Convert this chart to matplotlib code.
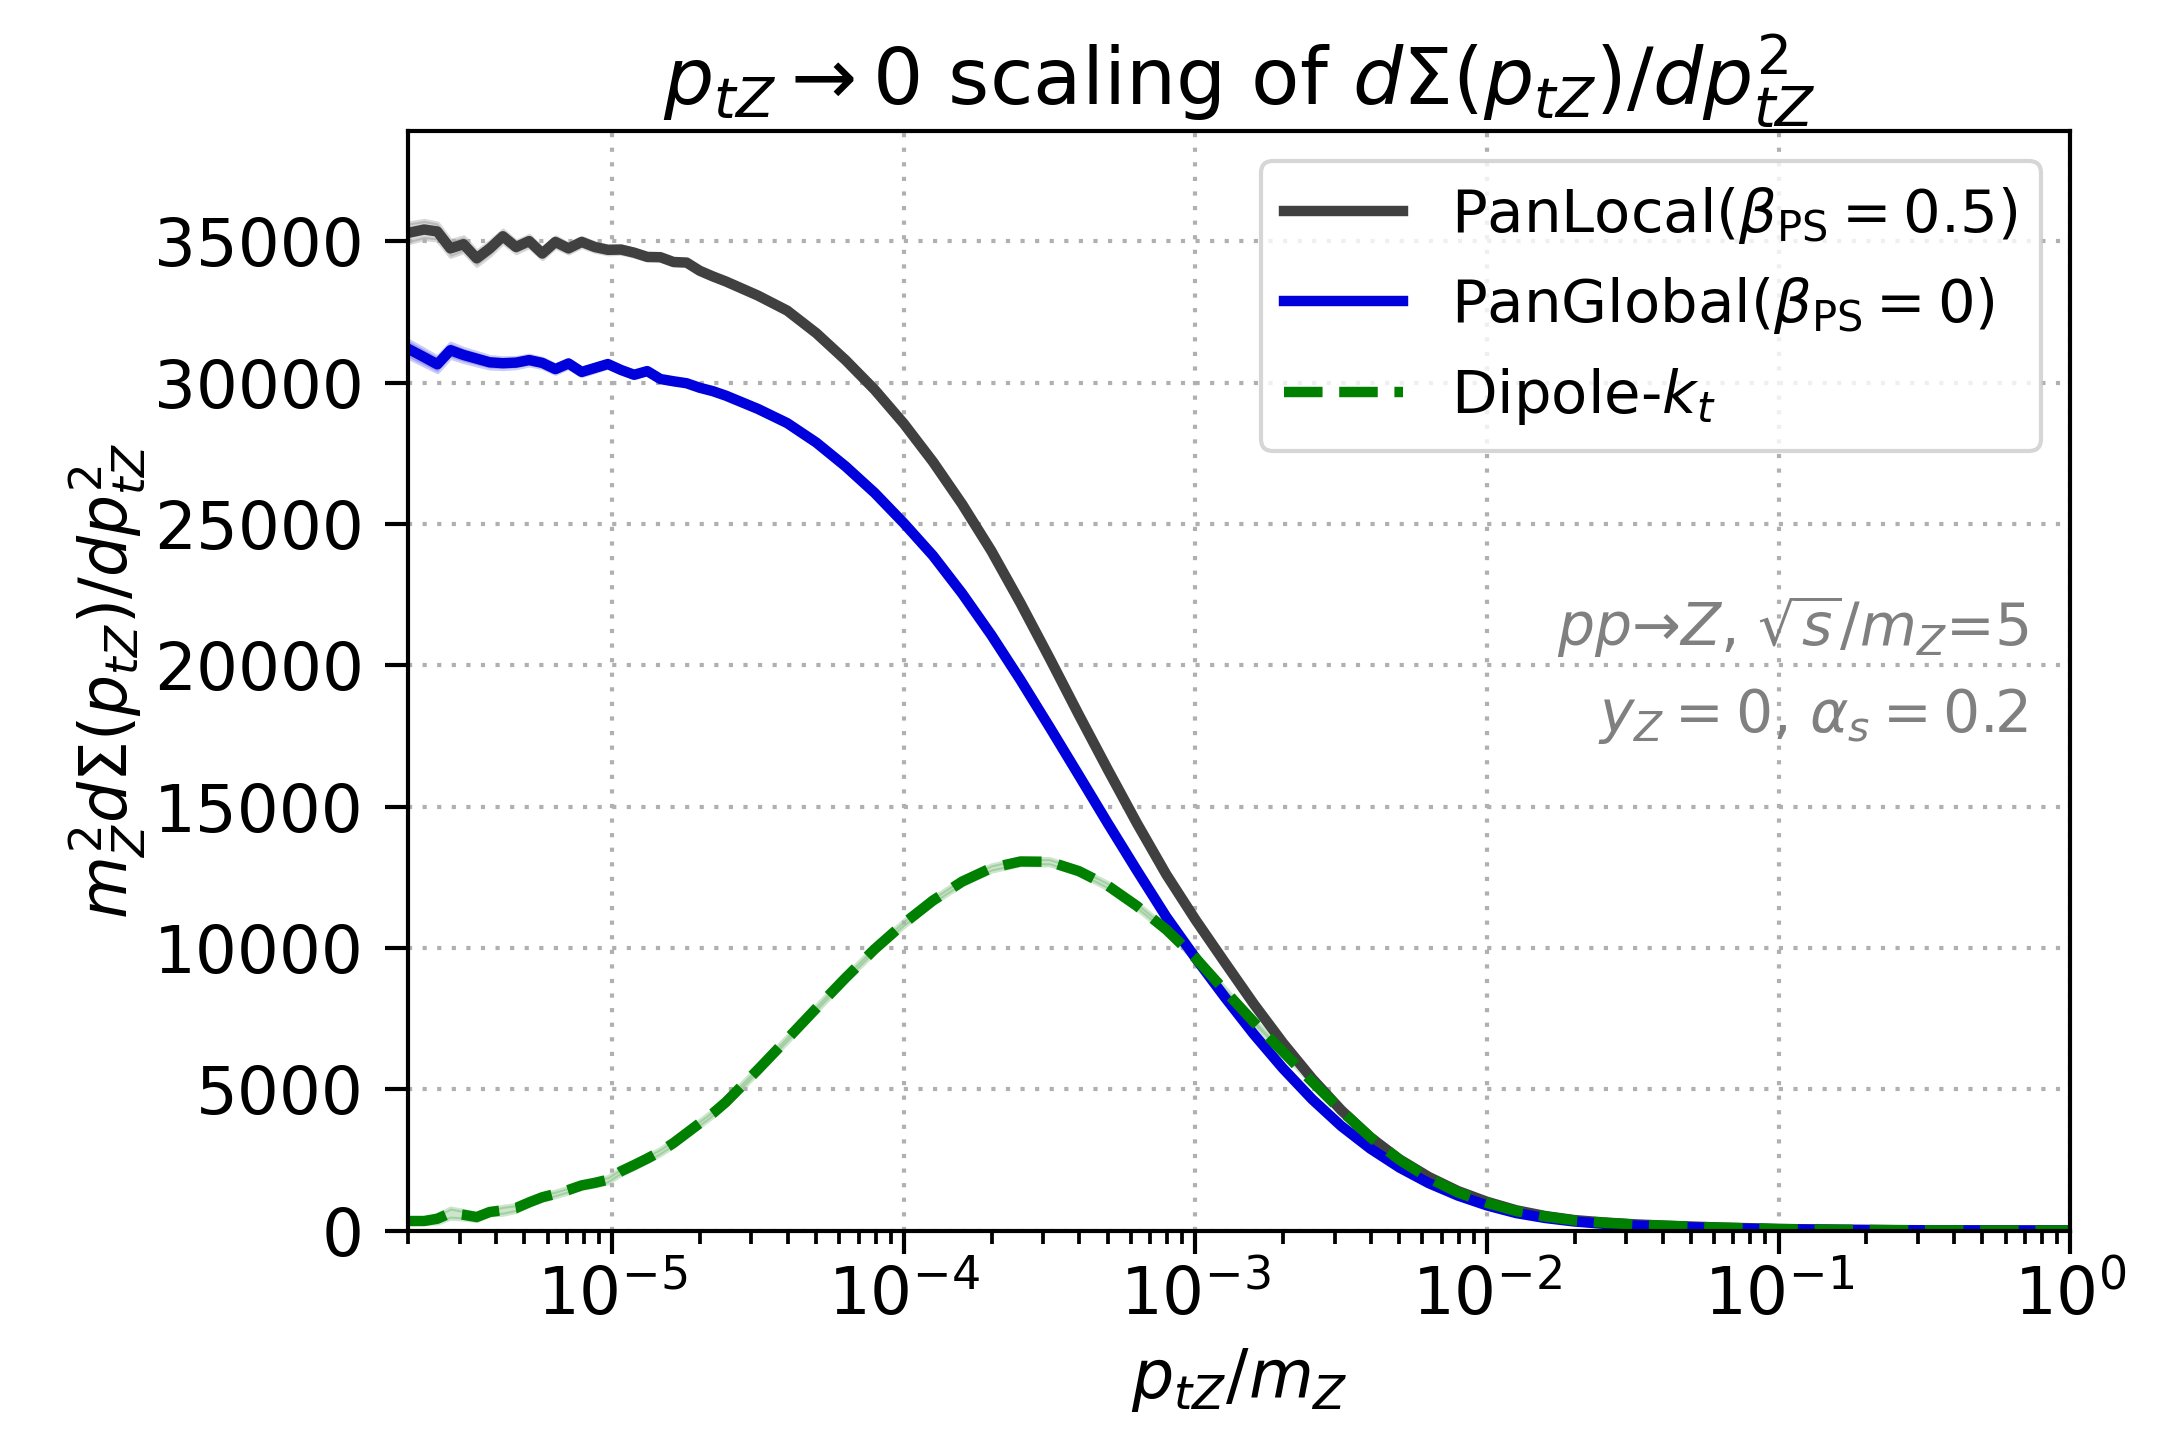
import numpy as np
import matplotlib
matplotlib.use("Agg")
import matplotlib.pyplot as plt
from matplotlib.ticker import MultipleLocator

# log10(p_tZ / m_Z) bin positions
log_pt = [-5.70, -5.645, -5.60, -5.555, -5.51, -5.465, -5.42, -5.375, -5.33, -5.285,
          -5.24, -5.195, -5.15, -5.105, -5.06, -5.015, -4.97, -4.925, -4.88, -4.835,
          -4.79, -4.745, -4.70, -4.655, -4.61,
          -4.5, -4.4, -4.3, -4.2, -4.1, -4.0, -3.9, -3.8, -3.7, -3.6,
          -3.5, -3.4, -3.3, -3.2, -3.1, -3.0, -2.9, -2.8, -2.7, -2.6,
          -2.5, -2.4, -2.3, -2.2, -2.1, -2.0, -1.9, -1.8, -1.7, -1.6,
          -1.5, -1.4, -1.2, -1.0, -0.8, -0.6, -0.4, -0.2, 0.0]

panlocal = [35300, 35420, 35350, 34750, 34900, 34400, 34750, 35180, 34800, 35010,
            34570, 34980, 34750, 34980, 34800, 34700, 34710, 34600, 34450, 34440,
            34270, 34250, 33960, 33760, 33580,
            33080, 32550, 31750, 30800, 29750, 28550, 27200, 25700, 24050, 22200,
            20250, 18250, 16300, 14400, 12600, 11000, 9500, 8020, 6640, 5380,
            4260, 3300, 2520, 1900, 1400, 1020, 720, 515, 372, 290,
            225, 180, 110, 60, 32, 18, 10, 5, 3]
panlocal_err = [350, 320, 300, 280, 260, 250, 240, 220, 200, 200,
                180, 180, 160, 160, 150, 140, 130, 120, 110, 100,
                100, 90, 80, 80, 70,
                60, 50, 40, 40, 30, 30, 30, 30, 30, 30,
                30, 30, 30, 30, 30, 30, 20, 20, 20, 20,
                20, 20, 20, 10, 10, 10, 10, 10, 10, 10,
                10, 10, 5, 5, 5, 5, 5, 5, 5]

panglobal = [31200, 30900, 30650, 31150, 30980, 30850, 30720, 30690, 30710, 30800,
             30700, 30480, 30680, 30380, 30520, 30660, 30450, 30280, 30410, 30130,
             30050, 29980, 29820, 29700, 29540,
             29070, 28570, 27880, 27040, 26100, 25030, 23880, 22540, 21070, 19480,
             17810, 16110, 14400, 12730, 11100, 9650, 8270, 6950, 5740, 4650,
             3700, 2900, 2230, 1680, 1240, 890, 620, 445, 322, 240,
             180, 145, 85, 45, 25, 14, 8, 4, 2]
panglobal_err = [300, 280, 260, 250, 230, 220, 200, 190, 180, 170,
                 160, 150, 140, 130, 120, 110, 100, 100, 90, 80,
                 80, 70, 60, 60, 50,
                 50, 40, 40, 30, 30, 30, 30, 30, 30, 30,
                 30, 30, 30, 30, 30, 30, 20, 20, 20, 20,
                 20, 20, 20, 10, 10, 10, 10, 10, 10, 10,
                 10, 10, 5, 5, 5, 5, 5, 5, 5]

dipole = [340, 340, 420, 620, 560, 480, 660, 720, 800, 1000,
          1180, 1300, 1440, 1600, 1690, 1800, 2100, 2320, 2550, 2800,
          3100, 3450, 3800, 4150, 4550,
          5700, 6780, 7870, 8940, 9960, 10870, 11680, 12350, 12830, 13060,
          13050, 12720, 12200, 11480, 10650, 9650, 8500, 7380, 6330, 5270,
          4250, 3300, 2500, 1860, 1350, 980, 690, 500, 358, 280,
          220, 175, 105, 55, 30, 17, 9, 5, 3]
dipole_err = [60, 80, 150, 180, 150, 120, 100, 140, 120, 100,
              100, 100, 100, 100, 110, 110, 110, 110, 110, 110,
              110, 110, 110, 110, 110,
              110, 110, 110, 110, 110, 110, 110, 110, 110, 110,
              110, 110, 110, 110, 110, 100, 100, 90, 80, 70,
              60, 50, 40, 30, 30, 20, 20, 10, 10, 10,
              10, 10, 5, 5, 5, 5, 5, 5, 5]

series = [
    (r"PanLocal($\beta_{\rm PS}=0.5$)", panlocal, panlocal_err, "#404040", "-"),
    (r"PanGlobal($\beta_{\rm PS}=0$)", panglobal, panglobal_err, "#0000dd", "-"),
    (r"Dipole-$k_t$", dipole, dipole_err, "green", "--"),
]

plt.rcParams["font.size"] = 15.5

fig, ax = plt.subplots(figsize=(2161 / 300, 1441 / 300), dpi=300)
fig.subplots_adjust(left=0.189, right=0.958, top=0.909, bottom=0.146)

x = 10 ** np.array(log_pt)
for label, vals, err, col, ls in series:
    vals = np.array(vals, dtype=float)
    err = np.array(err, dtype=float)
    ax.fill_between(x, vals - err, vals + err, color=col, alpha=0.2)
    ax.plot(x, vals, ls=ls, color=col, lw=2.5, label=label)

ax.set_xscale("log")
ax.set_xlim(2e-6, 1)
ax.set_ylim(0, 38900)
ax.yaxis.set_major_locator(MultipleLocator(5000))
ax.grid(ls=(0, (1, 2.5)), lw=1.0, color="#b0b0b0")
for s in ax.spines.values():
    s.set_linewidth(1.0)
ax.tick_params(which="major", labelsize=15.8, length=5.5, width=1.0)
ax.tick_params(which="minor", length=3.1, width=0.9)
ax.tick_params(axis="x", which="major", pad=2.5)
ax.tick_params(axis="y", which="major", pad=5.2)
ax.set_xlabel(r"$p_{tZ}/m_Z$", fontsize=16)
ax.set_ylabel(r"$m_Z^2 d\Sigma(p_{tZ})/dp_{tZ}^2$", fontsize=15.5, labelpad=1.5)
ax.set_title(r"$p_{tZ}\to0$ scaling of $d\Sigma(p_{tZ})/dp_{tZ}^2$", fontsize=19)
ax.legend(loc="upper right", fontsize=14.25)
ax.text(0.975, 0.51, "$pp$→$Z$, $\\sqrt{s}/m_Z$=5\n$y_Z=0$, $\\alpha_s=0.2$",
        transform=ax.transAxes, ha="right", va="center", multialignment="right",
        color="grey", fontsize=14, linespacing=1.55)

fig.savefig("out.png", dpi=300)
